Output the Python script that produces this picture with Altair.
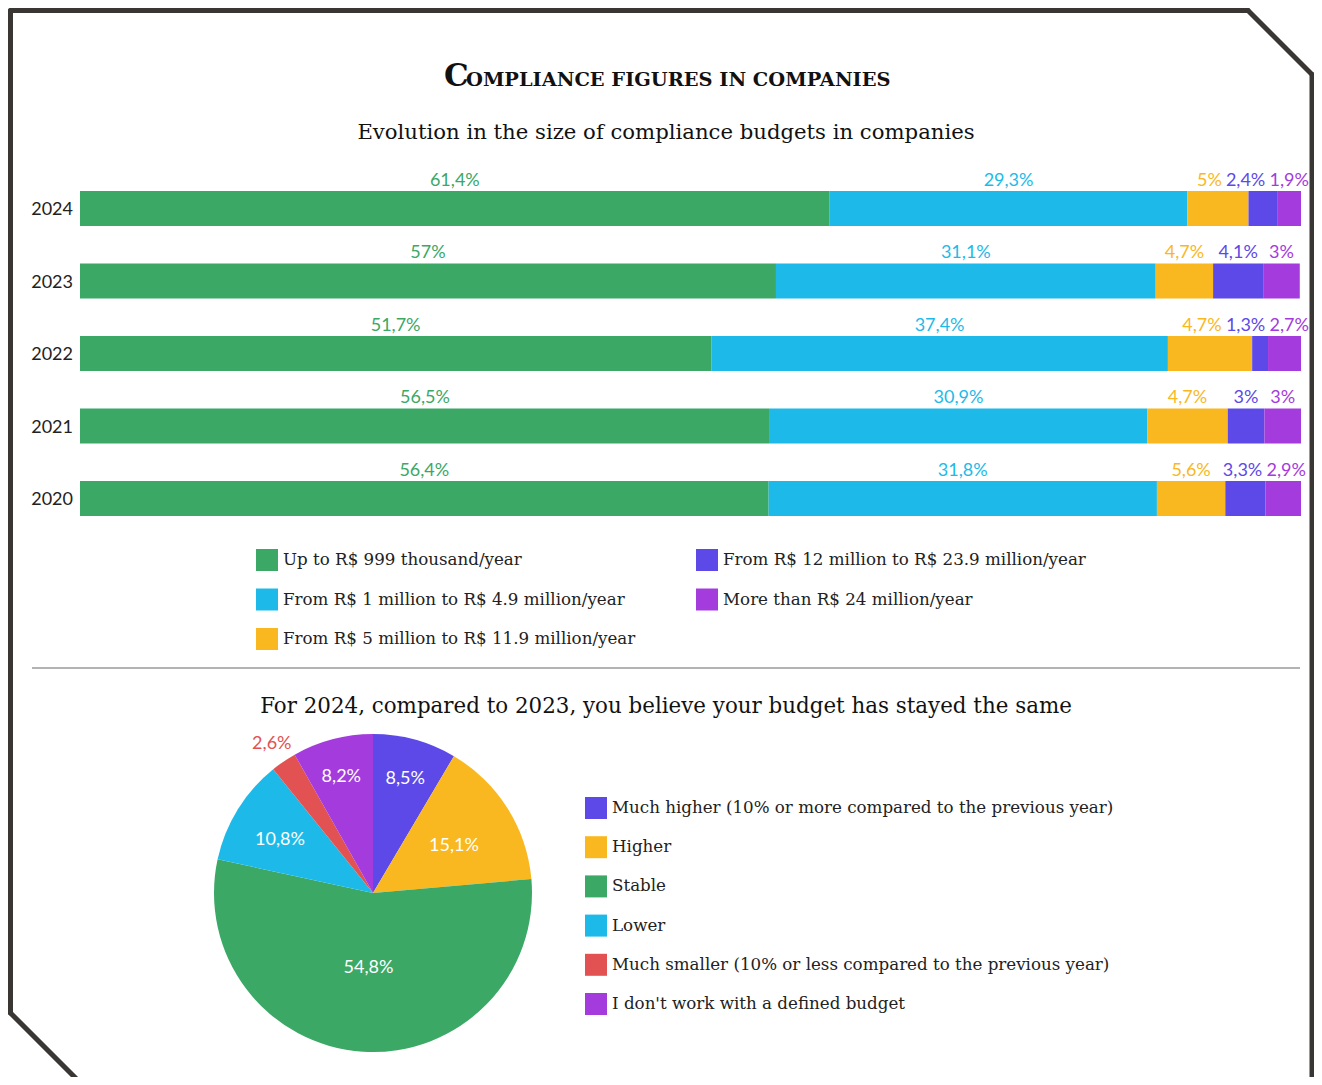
import math
import altair as alt
import pandas as pd

# ---------------- data ----------------
title_text = "Compliance figures in companies"
bar_title = "Evolution in the size of compliance budgets in companies"
pie_title = "For 2024, compared to 2023, you believe your budget has stayed the same"

years = ["2024", "2023", "2022", "2021", "2020"]
budget_series = [
    "Up to R$ 999 thousand/year",
    "From R$ 1 million to R$ 4.9 million/year",
    "From R$ 5 million to R$ 11.9 million/year",
    "From R$ 12 million to R$ 23.9 million/year",
    "More than R$ 24 million/year",
]
budget_colors = ["#3ba866", "#1dbae9", "#f9b81f", "#5c49e8", "#a43bdc"]

# bar widths as drawn (per year, top to bottom)
up_to_999k = [61.4, 57.0, 51.7, 56.5, 56.4]
from_1m = [29.3, 31.1, 37.4, 30.9, 31.8]
from_5m = [5.0, 4.7, 6.9, 6.6, 5.6]
from_12m = [2.4, 4.1, 1.3, 3.0, 3.3]
over_24m = [1.9, 3.0, 2.7, 3.0, 2.9]
# values printed above the bars
from_5m_printed = [5.0, 4.7, 4.7, 4.7, 5.6]

budget_widths = [up_to_999k, from_1m, from_5m, from_12m, over_24m]
budget_printed = [up_to_999k, from_1m, from_5m_printed, from_12m, over_24m]

pie_categories = [
    "Much higher (10% or more compared to the previous year)",
    "Higher",
    "Stable",
    "Lower",
    "Much smaller (10% or less compared to the previous year)",
    "I don't work with a defined budget",
]
pie_values = [8.5, 15.1, 54.8, 10.8, 2.6, 8.2]
pie_colors = ["#5c49e8", "#f9b81f", "#3ba866", "#1dbae9", "#e25252", "#a43bdc"]


def pct(v):
    s = f"{v:.1f}".rstrip("0").rstrip(".")
    return s.replace(".", ",") + "%"


# ---------------- layout helpers ----------------
X0, X1 = 72, 1293            # bar scale range in px
PX = (X1 - X0) / 100.0
LABEL_SIZE = 18
RIGHT_LIMIT = 1301 - X0      # labels must end before the view's right edge


def label_width(s):
    w = 0.0
    for ch in s:
        if ch.isdigit():
            w += 0.58
        elif ch == ",":
            w += 0.24
        elif ch == "%":
            w += 0.80
        else:
            w += 0.5
    return w * LABEL_SIZE


rows = []
for yi, year in enumerate(years):
    start = 0.0
    centers, halves, labels = [], [], []
    for si in range(len(budget_series)):
        w = budget_widths[si][yi]
        lab = pct(budget_printed[si][yi])
        centers.append((start + w / 2) * PX)
        halves.append(label_width(lab) / 2)
        labels.append(lab)
        start += w
    # spread overlapping labels apart, keep them inside the view
    gap = 4
    for _ in range(80):
        for i in range(len(centers) - 1):
            need = halves[i] + halves[i + 1] + gap
            ov = need - (centers[i + 1] - centers[i])
            if ov > 0:
                centers[i] -= ov / 2
                centers[i + 1] += ov / 2
        over = centers[-1] + halves[-1] - RIGHT_LIMIT
        if over > 0:
            centers[-1] -= over
    for si, s in enumerate(budget_series):
        rows.append({
            "year": year,
            "series": s,
            "idx": si,
            "value": budget_widths[si][yi],
            "label": labels[si],
            "lx": centers[si] / PX,
        })
bar_df = pd.DataFrame(rows)

R = 159
pie_df = pd.DataFrame({
    "cat": pie_categories,
    "v": pie_values,
    "i": list(range(len(pie_values))),
})
total = sum(pie_values)
cum, mids = 0.0, []
for v in pie_values:
    mids.append(2 * math.pi * (cum + v / 2) / total)
    cum += v
pie_df["mid"] = mids
pie_df["inner"] = [pct(v) if v >= 5 else "" for v in pie_values]
pie_df["outer"] = [pct(v) if v < 5 else "" for v in pie_values]
pie_df["r"] = [R * (0.388 + 3.23 / v) for v in pie_values]

one = alt.Data(values=[{}])

SERIF = "DejaVu Serif"
FRAME = "#3a3633"

# ---------------- frame ----------------
frame_segments = [
    (2.5, 1240, 2.5, 2.5),
    (1240, 1304, 2.5, 66.5),
    (1304, 1304, 66.5, 1100),
    (2.5, 2.5, 2.5, 1005),
    (2.5, 100, 1005, 1102.5),
]
frame_layers = [
    alt.Chart(one).mark_rule(color=FRAME, strokeWidth=5, strokeCap="round").encode(
        x=alt.value(a), x2=alt.value(b), y=alt.value(c), y2=alt.value(d)
    )
    for a, b, c, d in frame_segments
]

# ---------------- titles ----------------
title_big = alt.Chart(one).mark_text(
    font=SERIF, fontWeight="bold", fontSize=31, align="left", baseline="alphabetic", color="#111"
).encode(x=alt.value(436), y=alt.value(78), text=alt.value(title_text[0].upper()))
title_small = alt.Chart(one).mark_text(
    font=SERIF, fontWeight="bold", fontSize=19.4, align="left", baseline="alphabetic", color="#111"
).encode(x=alt.value(458), y=alt.value(78), text=alt.value(title_text[1:].upper()))
sub1 = alt.Chart(one).mark_text(
    font=SERIF, fontSize=21.2, align="center", baseline="alphabetic", color="#111"
).encode(x=alt.value(658), y=alt.value(131), text=alt.value(bar_title))
sub2 = alt.Chart(one).mark_text(
    font=SERIF, fontSize=21.4, align="center", baseline="alphabetic", color="#111"
).encode(x=alt.value(658), y=alt.value(705), text=alt.value(pie_title))

divider = alt.Chart(one).mark_rule(color="#9a9a9a", strokeWidth=1.5).encode(
    x=alt.value(24), x2=alt.value(1292), y=alt.value(660)
)

# ---------------- stacked bars ----------------
xscale = alt.Scale(domain=[0, 100], range=[X0, X1], nice=False, zero=True)
yscale = alt.Scale(domain=years, range=[164.25, 526.75], paddingInner=0, paddingOuter=0)
bar_legend = alt.Legend(
    title=None, orient="none", legendX=248, legendY=541, columns=2,
    columnPadding=60, rowPadding=17.5, symbolType="square", symbolSize=484,
    symbolStrokeWidth=0, symbolOpacity=1, labelFont=SERIF, labelFontSize=16.7,
    labelColor="#222", labelOffset=5, labelLimit=700, padding=0, offset=0,
)
color_enc = alt.Color(
    "series:N", scale=alt.Scale(domain=budget_series, range=budget_colors), legend=bar_legend
)

bars = alt.Chart(bar_df).mark_bar(size=35).encode(
    x=alt.X("value:Q", stack="zero", scale=xscale, axis=None),
    y=alt.Y("year:N", scale=yscale, axis=None),
    color=color_enc,
    order=alt.Order("idx:Q"),
)
bar_labels = alt.Chart(bar_df).mark_text(
    font="Lato", fontSize=LABEL_SIZE, baseline="alphabetic", align="center", dy=-23
).encode(
    x=alt.X("lx:Q", scale=xscale, axis=None),
    y=alt.Y("year:N", scale=yscale, axis=None),
    text="label:N",
    color=color_enc,
)
year_labels = alt.Chart(pd.DataFrame({"year": years})).mark_text(
    font="Lato", fontSize=18, align="right", baseline="middle", color="#222", dy=1.5
).encode(
    x=alt.value(65),
    y=alt.Y("year:N", scale=yscale, axis=None),
    text="year:N",
)
bar_layer = alt.layer(bars, bar_labels, year_labels)

# ---------------- pie ----------------
CX, CY = 365, 885
pie_legend = alt.Legend(
    title=None, orient="none", legendX=577, legendY=789, direction="vertical",
    rowPadding=17.2, symbolType="square", symbolSize=484, symbolStrokeWidth=0,
    symbolOpacity=1, labelFont=SERIF, labelFontSize=16.7, labelColor="#222",
    labelOffset=5, labelLimit=700, padding=0, offset=0,
)
arcs = alt.Chart(pie_df).mark_arc(outerRadius=R).encode(
    theta=alt.Theta("v:Q", stack=True),
    order=alt.Order("i:Q"),
    color=alt.Color("cat:N", scale=alt.Scale(domain=pie_categories, range=pie_colors), legend=pie_legend),
    x=alt.value(CX), y=alt.value(CY),
)
pie_inner = alt.Chart(pie_df).mark_text(
    font="Lato", fontSize=18, color="white", align="center", baseline="middle", dy=4
).encode(
    theta=alt.Theta("mid:Q", scale=None, stack=None),
    radius=alt.Radius("r:Q", scale=None, stack=None),
    text="inner:N", x=alt.value(CX), y=alt.value(CY),
)
pie_outer = alt.Chart(pie_df).mark_text(
    font="Lato", fontSize=18, color="#e25252", align="center", baseline="middle", radius=180
).encode(
    theta=alt.Theta("mid:Q", scale=None, stack=None),
    text="outer:N", x=alt.value(CX), y=alt.value(CY),
)
pie_layer = alt.layer(arcs, pie_inner, pie_outer)

chart = alt.layer(
    *frame_layers, title_big, title_small, sub1, sub2, divider, bar_layer, pie_layer
).resolve_scale(color="independent", theta="independent").properties(
    width=1306, height=1069, padding=0,
    autosize=alt.AutoSizeParams(type="none"),
    background="white",
).configure_view(strokeWidth=0)

chart.save("out.html", embed_options={"renderer": "svg", "actions": False})
